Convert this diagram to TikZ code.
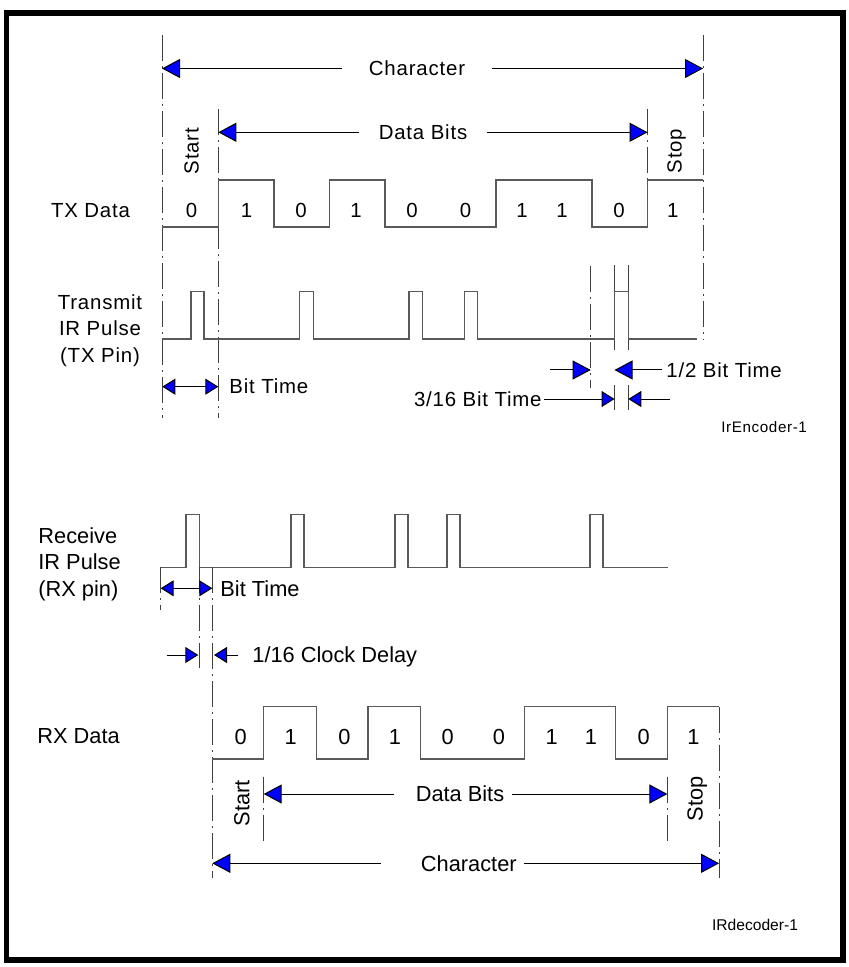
\documentclass[tikz,border=0pt]{standalone}
\usepackage{fontspec}
\setmainfont{Liberation Sans}
\newfontfamily\txfamily[LetterSpace=4]{Liberation Sans}
\usetikzlibrary{arrows.meta}
\newcommand{\txlabel}{\txfamily\fontsize{10.2}{13.3}\selectfont}
\newcommand{\rxlabel}{\fontsize{10.9}{13.3}\selectfont}

\begin{document}
\begin{tikzpicture}[x=0.5pt, y=-0.5pt,
        wave/.style={line width=0.75pt, black!65},
        guide/.style={line width=0.5pt, black!75, dash pattern=on 13pt off 2.5pt on 1pt off 2.5pt},
        tick/.style={line width=0.5pt, black!75},
        dim/.style={line width=0.5pt, -{Triangle[length=9pt, width=9.5pt, fill=blue]}},
        dimsmall/.style={line width=0.5pt, -{Triangle[length=6.5pt, width=8pt, fill=blue]}},
        dimboth/.style={line width=0.5pt, {Triangle[length=6.5pt, width=8pt, fill=blue]}-{Triangle[length=6.5pt, width=8pt, fill=blue]}},
        tx/.style={font=\txlabel, inner sep=0pt},
        rx/.style={font=\rxlabel, inner sep=0pt}]
    \useasboundingbox (0,0) rectangle (849,967);
    % frame
    \draw[line width=2.75pt] (6.3,13) rectangle (843,960);

    % ---------------- transmit side ----------------
    \draw[guide] (162,35) -- (162,418);
    \draw[guide] (218.3,109) -- (218.3,418);
    \draw[guide] (647.6,109) -- (647.6,227);
    \draw[guide] (703,35) -- (703,340);
    \draw[guide] (590.7,266) -- (590.7,388);
    \draw[tick] (614.5,265) -- (614.5,350) (614.5,385) -- (614.5,410);
    \draw[tick] (628.3,265) -- (628.3,350) (628.3,385) -- (628.3,410);

    \node[tx, inner xsep=13.5pt] (CharTX) at (417,68.5) {Character};
    \coordinate (CharTXL) at (162,68.5);
    \coordinate (CharTXR) at (703,68.5);
    \draw[dim] (CharTX) -- (CharTXL);
    \draw[dim] (CharTX) -- (CharTXR);

    \node[tx, inner xsep=9.5pt] (DataTX) at (423,132.3) {Data Bits};
    \coordinate (DataTXL) at (218.3,132.3);
    \coordinate (DataTXR) at (647.6,132.3);
    \draw[dim] (DataTX) -- (DataTXL);
    \draw[dim] (DataTX) -- (DataTXR);

    \node[tx, rotate=90] (StartTX) at (191.7,151) {Start};
    \node[tx, rotate=90] (StopTX) at (676.5,151) {Stop};

    \node[tx] (TXData) at (90.5,210.7) {TX Data};
    \draw[wave] (162,227) -- (218.3,227) -- (218.3,180) -- (274,180) -- (274,227)
        -- (329.4,227) -- (329.4,180) -- (385,180) -- (385,227) -- (496,227)
        -- (496,180) -- (592,180) -- (592,227) -- (647.6,227) -- (647.6,180) -- (703,180);
    \foreach \x/\b [count=\i] in {191.5/0, 246.5/1, 301/0, 356/1, 412/0, 465.6/0, 522/1, 562/1, 619/0, 672.7/1}
        \node[tx] (BitTX\i) at (\x,210) {\b};

    \node[tx, align=center] (TXPin) at (100,330.4) {Transmit\\IR Pulse\\(TX Pin)};
    \draw[wave] (162,339)
        \foreach \a/\b in {191.2/204.2, 299.6/313.5, 408.9/422.7, 464.4/477.4, 614.5/628.3}
            { -- (\a,339) -- (\a,291.5) -- (\b,291.5) -- (\b,339) } -- (697,339);

    % bit time marks
    \coordinate (BitTXL) at (162.3,386.7);
    \coordinate (BitTXR) at (218.3,386.7);
    \draw[dimboth] (BitTXL) -- (BitTXR);
    \node[tx, anchor=west] (BitTX) at (229,386.7) {Bit Time};

    \node[tx, anchor=west] (HalfBit) at (666,370) {1/2 Bit Time};
    \coordinate (HalfBitA) at (550,370);
    \coordinate (HalfBitB) at (590.7,370);
    \coordinate (HalfBitC) at (614.5,370);
    \draw[dim] (HalfBitA) -- (HalfBitB);
    \draw[dim] ([xshift=-2pt]HalfBit.west) -- (HalfBitC);

    \node[tx, anchor=east] (PulseBit) at (542,399) {3/16 Bit Time};
    \coordinate (PulseBitB) at (614.5,399);
    \coordinate (PulseBitC) at (628.3,399);
    \coordinate (PulseBitD) at (669.5,399);
    \draw[dimsmall] ([xshift=1pt]PulseBit.east) -- (PulseBitB);
    \draw[dimsmall] (PulseBitD) -- (PulseBitC);

    \node[font=\txfamily\fontsize{7.6}{9}\selectfont, inner sep=0pt, anchor=west] (IrEnc) at (721,427.3) {IrEncoder-1};

    % ---------------- receive side ----------------
    \node[rx, align=left, anchor=west] (RXPin) at (38,564) {Receive\\IR Pulse\\(RX pin)};
    \draw[wave] (160.7,567.3)
        \foreach \a/\b in {186/199.3, 291/304, 395/408, 447/460, 590/603}
            { -- (\a,567.3) -- (\a,514.5) -- (\b,514.5) -- (\b,567.3) } -- (668,567.3);
    \draw[guide] (160.7,567) -- (160.7,610);
    \draw[guide] (199.3,567) -- (199.3,668);
    \draw[guide] (212.3,567) -- (212.3,878);

    \coordinate (BitRXL) at (160.7,588.3);
    \coordinate (BitRXR) at (212.3,588.3);
    \draw[dimboth] (BitRXL) -- (BitRXR);
    \node[rx, anchor=west] (BitRX) at (220,588.3) {Bit Time};

    \node[rx, anchor=west] (ClockDelay) at (252,657) {1/16 Clock Delay};
    \coordinate (ClockA) at (166.7,655);
    \coordinate (ClockB) at (198.3,655);
    \coordinate (ClockC) at (214,655);
    \coordinate (ClockD) at (238.3,655);
    \draw[dimsmall] (ClockA) -- (ClockB);
    \draw[dimsmall] (ClockD) -- (ClockC);

    \node[rx, anchor=west] (RXData) at (37,736.5) {RX Data};
    \draw[wave] (212.3,759) -- (263.7,759) -- (263.7,706.7) -- (316.5,706.7) -- (316.5,759)
        -- (368.1,759) -- (368.1,706.7) -- (420.6,706.7) -- (420.6,759) -- (524.3,759)
        -- (524.3,706.7) -- (615.7,706.7) -- (615.7,759) -- (667.4,759) -- (667.4,706.7) -- (719.1,706.7);
    \draw[guide] (719.1,706.7) -- (719.1,878);
    \foreach \x/\b [count=\i] in {240.7/0, 290.8/1, 344.4/0, 394.9/1, 447.7/0, 499/0, 551.8/1, 590.9/1, 643.7/0, 693.4/1}
        \node[rx] (BitRX\i) at (\x,737.3) {\b};

    \draw[guide] (263.7,776.7) -- (263.7,845);
    \draw[guide] (667.4,776.7) -- (667.4,845);
    \node[rx, rotate=90] (StartRX) at (241.8,803) {Start};
    \node[rx, rotate=90] (StopRX) at (697.3,799) {Stop};

    \node[rx] (DataRX) at (460,794) {Data Bits};
    \coordinate (DataRXL) at (263.7,794);
    \coordinate (DataRXR) at (667.4,794);
    \draw[dim] ([xshift=-10.5pt]DataRX.west) -- (DataRXL);
    \draw[dim] ([xshift=3.8pt]DataRX.east) -- (DataRXR);

    \node[rx] (CharRX) at (468.8,863.3) {Character};
    \coordinate (CharRXL) at (212.3,863.3);
    \coordinate (CharRXR) at (719.1,863.3);
    \draw[dim] ([xshift=-19.7pt]CharRX.west) -- (CharRXL);
    \draw[dim] ([xshift=3.7pt]CharRX.east) -- (CharRXR);

    \node[font=\fontsize{7.8}{9}\selectfont, inner sep=0pt, anchor=west] (IRDec) at (711.7,925) {IRdecoder-1};
\end{tikzpicture}
\end{document}
